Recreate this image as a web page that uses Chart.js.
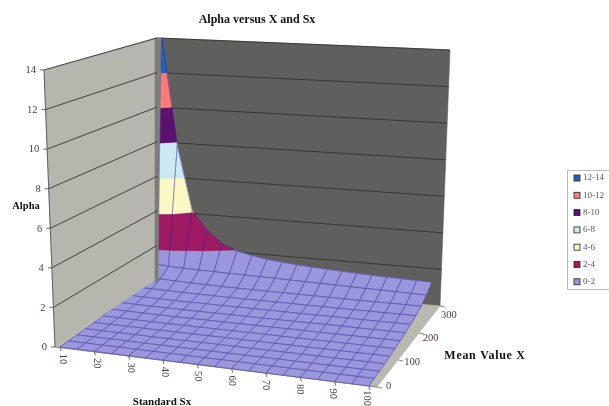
<!DOCTYPE html>
<html>
<head>
<meta charset="utf-8">
<style>
  html, body { margin: 0; padding: 0; background: #fff; }
  #wrap { width: 609px; height: 406px; }
</style>
<script src="https://cdn.jsdelivr.net/npm/chart.js@4/dist/chart.umd.js"></script>
</head>
<body>
<div id="wrap"><canvas id="c" width="609" height="406"></canvas></div>
<script>
// Alpha surface. One array per Mean Value X row.
const sxValues = [10, 15, 20, 25, 30, 35, 40, 45, 50, 55, 60, 65, 70, 75, 80, 85, 90, 95, 100];
const meanValues = [0, 25, 50, 75, 100, 125, 150, 175, 200, 225, 250, 275, 300];
const alphaX0 = [0, 0, 0, 0, 0, 0, 0, 0, 0, 0, 0, 0, 0, 0, 0, 0, 0, 0, 0];
const alphaX25 = [.02, .02, .02, .02, .02, .02, .02, .02, .02, .02, .02, .02, .02, .02, .02, .02, .02, .02, .02];
const alphaX50 = [.04, .04, .04, .04, .03, .03, .03, .03, .03, .03, .03, .03, .03, .03, .03, .03, .03, .03, .03];
const alphaX75 = [.07, .06, .06, .06, .05, .05, .05, .05, .05, .05, .05, .05, .05, .05, .05, .05, .05, .05, .05];
const alphaX100 = [.1, .1, .09, .09, .08, .08, .08, .08, .08, .07, .07, .07, .07, .07, .07, .07, .07, .07, .07];
const alphaX125 = [.15, .14, .13, .12, .12, .12, .11, .11, .11, .11, .11, .1, .1, .1, .1, .1, .1, .1, .1];
const alphaX150 = [.2, .19, .18, .17, .16, .16, .16, .15, .15, .15, .15, .15, .15, .14, .14, .14, .14, .14, .14];
const alphaX175 = [.27, .25, .24, .23, .22, .22, .21, .21, .21, .2, .2, .2, .2, .2, .2, .19, .19, .19, .19];
const alphaX200 = [.36, .34, .32, .31, .3, .3, .29, .29, .28, .28, .28, .27, .27, .27, .27, .26, .26, .26, .26];
const alphaX225 = [.5, .48, .46, .44, .42, .41, .4, .39, .39, .38, .38, .37, .37, .36, .36, .36, .35, .35, .35];
const alphaX250 = [.75, .72, .68, .65, .62, .6, .58, .57, .56, .55, .54, .53, .52, .51, .5, .5, .49, .49, .48];
const alphaX275 = [1.2, 1.12, 1.08, 1.05, 1.03, 1, .98, .96, .94, .91, .89, .86, .84, .81, .79, .77, .75, .72, .7];
const alphaX300 = [14, 7.8, 4.1, 3, 2.3, 1.95, 1.75, 1.6, 1.5, 1.42, 1.36, 1.3, 1.25, 1.2, 1.16, 1.12, 1.09, 1.06, 1.03];
const alphaRows = [alphaX0, alphaX25, alphaX50, alphaX75, alphaX100, alphaX125, alphaX150, alphaX175, alphaX200, alphaX225, alphaX250, alphaX275, alphaX300];

const alphaTicks = [0, 2, 4, 6, 8, 10, 12, 14];
const sxTicks = [10, 20, 30, 40, 50, 60, 70, 80, 90, 100];
const meanTicks = [0, 100, 200, 300];
const bandLabels = ["0-2", "2-4", "4-6", "6-8", "8-10", "10-12", "12-14"];
const bandColors = ["#9a98dc", "#9e1a62", "#fbf8c4", "#cbe9f4", "#5c1070", "#ff7a78", "#1e62c4"];

const SERIF = '"Liberation Serif", "Times New Roman", serif';

// Projection: corners of the box (front-left, back-left, back-right, front-right)
// on the floor and at alpha = 14, in canvas units. The x/y scales run 0..609 and
// 0..406 so everything goes through them.
const BOX_FLOOR = [[55, 347], [157, 280], [440, 306], [377, 387]];
const BOX_TOP = [[44, 70], [157, 38], [450, 50], [401, 92]];
const SURF_FLOOR = [[60, 347], [162, 279], [431, 301], [369, 386]];
const SURF_TOP = [[49, 70], [162, 38], [441, 45], [393, 96]];

function bilerp(c, u, v) {
  const front = [c[0][0] + (c[3][0] - c[0][0]) * u, c[0][1] + (c[3][1] - c[0][1]) * u];
  const back = [c[1][0] + (c[2][0] - c[1][0]) * u, c[1][1] + (c[2][1] - c[1][1]) * u];
  return [front[0] + (back[0] - front[0]) * v, front[1] + (back[1] - front[1]) * v];
}
function project(floor, top, u, v, a) {
  const p = bilerp(floor, u, v);
  const q = bilerp(top, u, v);
  const t = a / 14;
  return { x: p[0] + (q[0] - p[0]) * t, y: p[1] + (q[1] - p[1]) * t };
}
const uOf = (sx) => (sx - 10) / 90;
const vOf = (m) => m / 300;
const boxPt = (u, v, a) => project(BOX_FLOOR, BOX_TOP, u, v, a);
const surfPt = (p) => project(SURF_FLOOR, SURF_TOP, uOf(p.sx), vOf(p.m), p.a);

// clip a cell polygon to alpha >= lim (keep=1) or alpha <= lim (keep=-1)
function clipAlpha(poly, lim, keep) {
  const out = [];
  poly.forEach((p, i) => {
    const n = poly[(i + 1) % poly.length];
    const pIn = (p.a - lim) * keep >= 0;
    const nIn = (n.a - lim) * keep >= 0;
    if (pIn) out.push(p);
    if (pIn !== nIn) {
      const t = (lim - p.a) / (n.a - p.a);
      out.push({ sx: p.sx + (n.sx - p.sx) * t, m: p.m + (n.m - p.m) * t, a: lim });
    }
  });
  return out;
}

const sets = [];
function shape(points, color) {
  sets.push({
    data: points.concat([points[0]]),
    showLine: true, pointRadius: 0, fill: "shape", backgroundColor: color,
    borderColor: color, borderWidth: 0.6, tension: 0,
  });
}
function stroke(points, color, width) {
  sets.push({
    data: points, showLine: true, pointRadius: 0, fill: false,
    borderColor: color, borderWidth: width, tension: 0,
  });
}

// back wall and floor go first
shape([{ x: 160, y: 38 }, boxPt(1, 1, 14), boxPt(1, 1, 0), { x: 158, y: 282 }], "#5f5f5e");
shape([boxPt(0, 0, 0), boxPt(0, 1, 0), boxPt(1, 1, 0), boxPt(1, 0, 0)], "#b9b9b1");
alphaTicks.forEach((a) => {
  if (a > 0) stroke([boxPt(0, 1, a), boxPt(1, 1, a)], "#333", 0.9);
});
stroke([boxPt(0, 0, 0), boxPt(1, 0, 0)], "#777", 0.8);

// ticks under the floor
sxTicks.forEach((s) => {
  const p = surfPt({ sx: s, m: 0, a: 0 });
  stroke([p, { x: p.x + 1, y: p.y + 4 }], "#444", 0.8);
});
meanTicks.forEach((m) => {
  const p = boxPt(1, vOf(m), 0);
  stroke([p, { x: p.x + 5, y: p.y + 1 }], "#666", 0.8);
});

// the surface, back row first so the front rows paint over it
for (let r = meanValues.length - 2; r >= 0; r--) {
  for (let c = 0; c < sxValues.length - 1; c++) {
    const cell = [
      { sx: sxValues[c], m: meanValues[r + 1], a: alphaRows[r + 1][c] },
      { sx: sxValues[c + 1], m: meanValues[r + 1], a: alphaRows[r + 1][c + 1] },
      { sx: sxValues[c + 1], m: meanValues[r], a: alphaRows[r][c + 1] },
      { sx: sxValues[c], m: meanValues[r], a: alphaRows[r][c] },
    ];
    bandColors.forEach((color, b) => {
      let part = clipAlpha(cell, b * 2, 1);
      if (part.length) part = clipAlpha(part, (b + 1) * 2, -1);
      if (part.length > 2) shape(part.map(surfPt), color);
    });
    stroke(cell.concat([cell[0]]).map(surfPt), "rgba(50,40,150,0.6)", 0.8);
  }
}

// left wall hides the surface where it climbs against it
shape([boxPt(0, 0, 0), boxPt(0, 0, 14), { x: 155, y: 38 }, { x: 155, y: 280 }], "#b6b6ae");
shape([{ x: 155, y: 38 }, { x: 161, y: 38 }, { x: 158, y: 282 }, { x: 155, y: 282 }], "#7c7c7a");
alphaTicks.forEach((a) => {
  const p = boxPt(0, 0, a);
  if (a > 0) stroke([p, boxPt(0, 1, a)], "#333", 0.9);
  stroke([{ x: p.x - 4, y: p.y }, p], "#444", 0.8);
});
stroke([boxPt(0, 0, 14), boxPt(0, 0, 0)], "#555", 0.9);

// later = on top: Chart.js paints low `order` last
sets.forEach((s, i) => { s.order = sets.length - i; });

const texts = {
  id: "texts",
  afterDraw(chart) {
    const ctx = chart.ctx;
    const X = chart.scales.x, Y = chart.scales.y;
    const put = (str, px, py, font, color, align, rot, spacing) => {
      ctx.save();
      ctx.translate(X.getPixelForValue(px), Y.getPixelForValue(py));
      if (rot) ctx.rotate(rot);
      ctx.font = font;
      if (spacing) ctx.letterSpacing = spacing;
      ctx.fillStyle = color;
      ctx.textAlign = align || "center";
      ctx.textBaseline = "middle";
      ctx.fillText(str, 0, 0);
      ctx.restore();
    };
    const tickFont = "10.5px " + SERIF;
    const tickInk = "#4a3c3c";
    put("Alpha versus X and Sx", 257, 20, "bold 12px " + SERIF, "#111");
    put("Alpha", 26, 206, "bold 10.5px " + SERIF, "#111");
    put("Standard Sx", 162, 402, "bold 11px " + SERIF, "#111");
    put("Mean Value X", 485, 356, "bold 12px " + SERIF, "#111", "center", 0, "0.7px");
    alphaTicks.forEach((a) => {
      const p = boxPt(0, 0, a);
      put(String(a), p.x - 8, p.y + 0.5, tickFont, tickInk, "right");
    });
    sxTicks.forEach((s) => {
      const p = surfPt({ sx: s, m: 0, a: 0 });
      put(String(s), p.x + 3 - 5 * uOf(s), p.y + 12, tickFont, tickInk, "center", Math.PI / 2);
    });
    meanTicks.forEach((m) => {
      const v = vOf(m);
      put(String(m), 386 + 55 * v, 386 - 71 * v, tickFont, tickInk, "left");
    });
    // legend
    ctx.strokeStyle = "#aaa";
    ctx.lineWidth = 0.8;
    ctx.strokeRect(567.5, 170.5, 60, 119);
    bandLabels.slice().reverse().forEach((label, i) => {
      const color = bandColors[bandColors.length - 1 - i];
      const y = 178 + i * 17.3;
      ctx.fillStyle = color;
      ctx.fillRect(X.getPixelForValue(574), Y.getPixelForValue(y - 3), 6, 6);
      ctx.strokeStyle = "#222";
      ctx.strokeRect(574, y - 3, 6, 6);
      put(label, 583, y, "9px " + SERIF, "#555", "left");
    });
  },
};

new Chart(document.getElementById("c"), {
  type: "scatter",
  data: { datasets: sets },
  plugins: [texts],
  options: {
    responsive: false,
    animation: false,
    layout: { padding: 0 },
    scales: {
      x: { type: "linear", display: false, min: 0, max: 609 },
      y: { type: "linear", display: false, min: 0, max: 406, reverse: true },
    },
    plugins: { legend: { display: false }, tooltip: { enabled: false } },
  },
});
</script>
</body>
</html>
